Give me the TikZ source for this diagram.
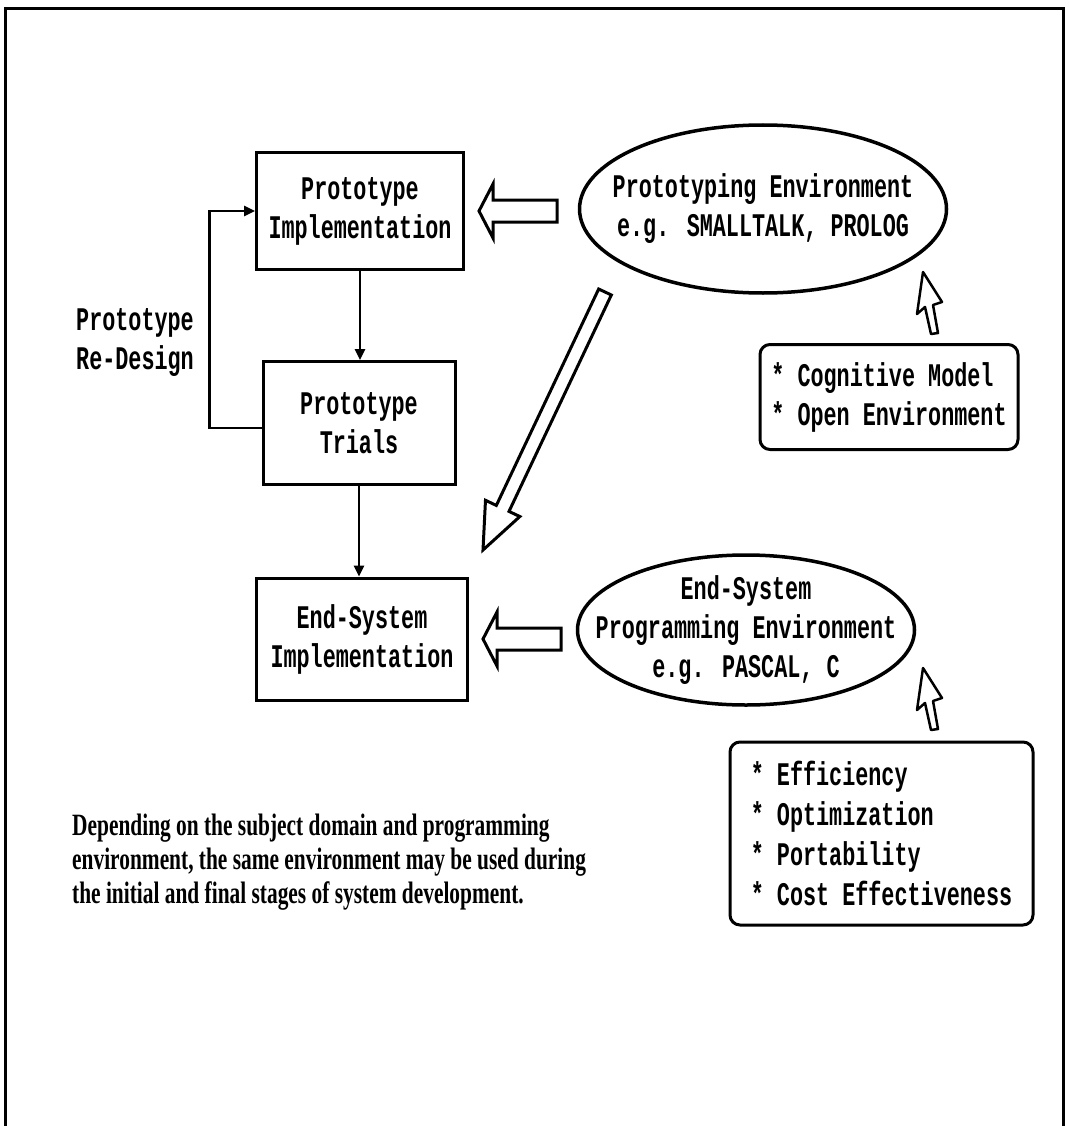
\documentclass[tikz,border=0pt]{standalone}
\usepackage{fontspec}
\newfontfamily\dia{Liberation Mono}[FakeStretch=0.66]
\newfontfamily\para{Liberation Serif}[FakeStretch=0.69]
\usetikzlibrary{arrows.meta,calc}

\tikzset{
  pics/cursorptr/.style={code={
    \draw[line width=2.5pt, fill=white, line join=round]
      (0,0) -- (-6,42) -- (2,35) -- (8,62) -- (15,61) -- (10,33) -- (19,30) -- cycle;
  }}
}

\begin{document}
\begin{tikzpicture}[x=1pt,y=-1pt,
  txt/.style={font=\dia\bfseries\fontsize{33}{39}\selectfont, align=center, inner sep=0pt},
  procbox/.style={txt, draw, line width=3pt},
  listbox/.style={txt, draw, rounded corners=10pt, line width=3pt, align=left},
  envline/.style={line width=3.5pt},
  conn/.style={line width=2.5pt, -{Triangle[length=11pt,width=10pt]}},
  hollow/.style={draw, line width=3pt, fill=white, line join=miter},
]
\useasboundingbox (0,0) rectangle (1068,1126);

% outer frame
\draw[line width=3pt] (5,1130) -- (5,9) -- (1063,9) -- (1063,1130);

% development stages
\node[procbox, minimum width=207pt, minimum height=116pt] (impl) at (360,211) {Prototype\\Implementation};
\node[procbox, minimum width=192pt, minimum height=123pt] (trial) at (359,423) {Prototype\\Trials};
\node[procbox, minimum width=211pt, minimum height=122pt] (endimpl) at (362,639) {End-System\\Implementation};
\node[txt] (redesign) at (135,343) {Prototype\\Re-Design};

\draw[conn] (impl.south) -- (impl.south |- trial.north);
\draw[conn] (trial.south) -- (trial.south |- endimpl.north);
\draw[conn] ([yshift=-5pt]trial.west) -- ++(-52,0) |- (impl.west);

% programming environments
\node[txt] (protoenv) at (763,209) {Prototyping Environment\\e.g. SMALLTALK, PROLOG};
\draw[envline] (protoenv.center) ellipse [x radius=183.5, y radius=84];
\node[txt] (endenv) at (746,630) {End-System\\Programming Environment\\e.g. PASCAL, C};
\draw[envline] (endenv.center) ellipse [x radius=168.5, y radius=75];

% requirement lists
\node[listbox, minimum width=258pt, minimum height=105pt] (cogbox) at (889,397) {* Cognitive Model\\* Open Environment};
\node[listbox, minimum width=303pt, minimum height=183pt, font=\dia\bfseries\fontsize{33}{40}\selectfont] (effbox) at (881.5,833.5) {* Efficiency\\* Optimization\\* Portability\\* Cost Effectiveness};

\pic at (923,272) {cursorptr};
\pic at (923,668) {cursorptr};

% hollow arrows from environments to implementations
\path (impl.east) ++(14,0) coordinate (h1tip);
\draw[hollow] (h1tip) -- ++(14,-27) -- ++(0,16) -- ++(64,0) -- ++(0,22) -- ++(-64,0) -- ++(0,16) -- cycle;
\path (endimpl.east) ++(14,0) coordinate (h2tip);
\draw[hollow] (h2tip) -- ++(14,-27) -- ++(0,16) -- ++(64,0) -- ++(0,22) -- ++(-64,0) -- ++(0,16) -- cycle;

\coordinate (dtail) at (605,292);
\coordinate (dtip) at (483,550);
\coordinate (dbase) at ($(dtip)!46pt!(dtail)$);
\draw[hollow] ($(dtail)!7pt!90:(dtip)$) -- ($(dbase)!7pt!90:(dtip)$) -- ($(dbase)!19pt!90:(dtip)$)
  -- (dtip) -- ($(dbase)!19pt!-90:(dtip)$) -- ($(dbase)!7pt!-90:(dtip)$) -- ($(dtail)!7pt!-90:(dtip)$) -- cycle;

% note
\node[anchor=north west, font=\para\bfseries\fontsize{31}{34}\selectfont, align=left, inner sep=0pt] (note) at (72,814)
  {Depending on the subject domain and programming\\environment, the same environment may be used during\\the initial and final stages of system development.};
\end{tikzpicture}
\end{document}
